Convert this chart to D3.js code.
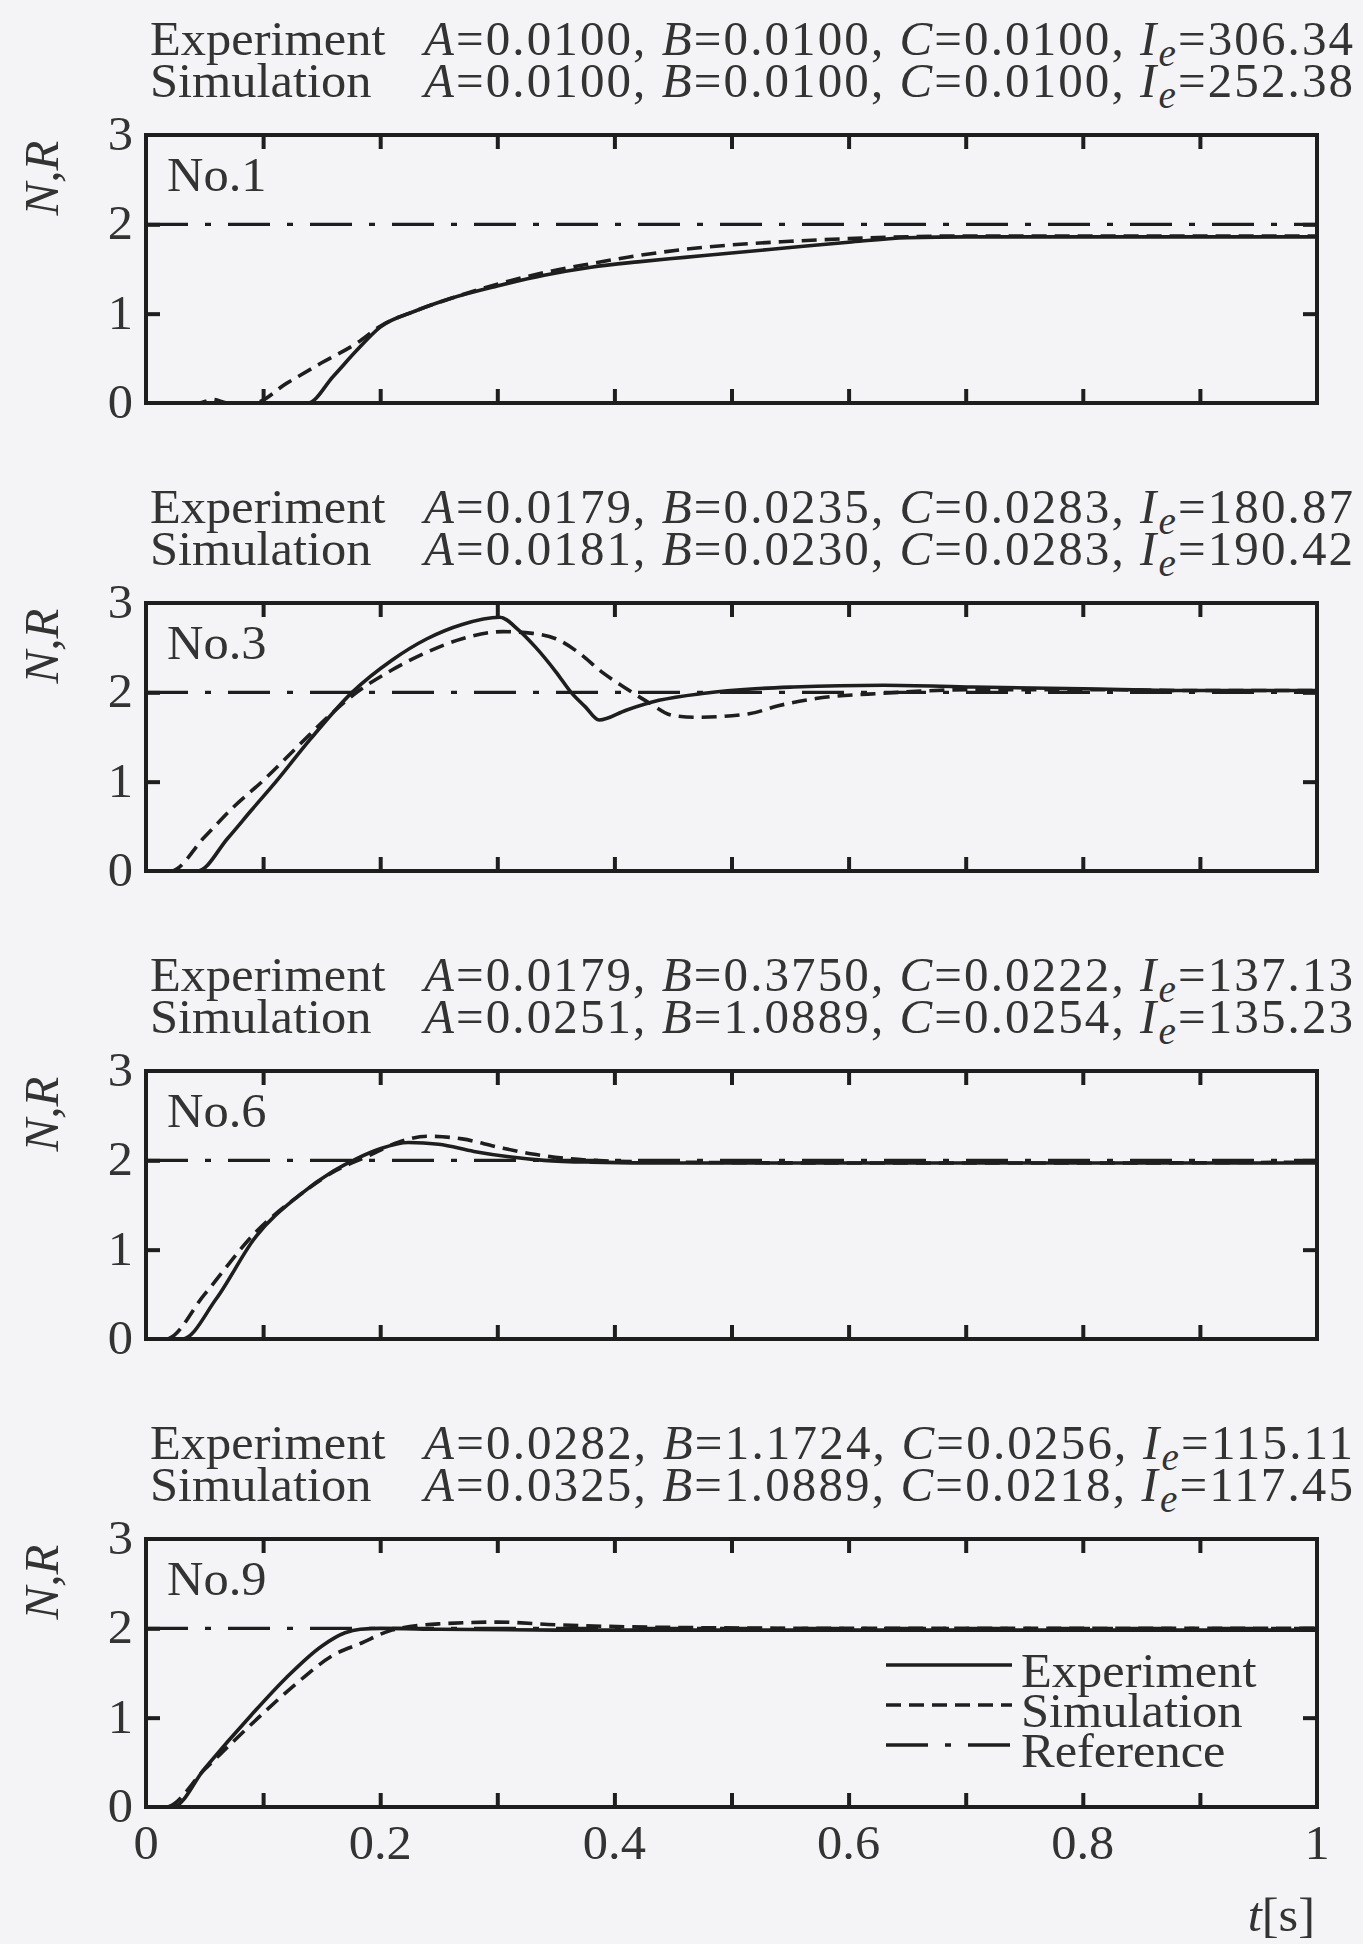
<!DOCTYPE html>
<html>
<head>
<meta charset="utf-8">
<script src="https://cdnjs.cloudflare.com/ajax/libs/d3/7.8.5/d3.min.js"></script>
<style>
  body { margin: 0; background: #f4f4f6; }
  svg text { font-family: "Liberation Serif", "Times New Roman", serif; fill: #333; white-space: pre; }
</style>
</head>
<body>
<div id="chart"></div>
<script>
// ---- data ----
const caseNames = ['No.1', 'No.3', 'No.6', 'No.9'];

// identified parameters, experiment / simulation
const expA  = [0.0100, 0.0179, 0.0179, 0.0282];
const expB  = [0.0100, 0.0235, 0.3750, 1.1724];
const expC  = [0.0100, 0.0283, 0.0222, 0.0256];
const expIe = [306.34, 180.87, 137.13, 115.11];
const simA  = [0.0100, 0.0181, 0.0251, 0.0325];
const simB  = [0.0100, 0.0230, 1.0889, 1.0889];
const simC  = [0.0100, 0.0283, 0.0254, 0.0218];
const simIe = [252.38, 190.42, 135.23, 117.45];

const xTickLabels = [0, 0.2, 0.4, 0.6, 0.8, 1];
const xMinorTicks = [0.1, 0.2, 0.3, 0.4, 0.5, 0.6, 0.7, 0.8, 0.9];
const yTickLabels = [0, 1, 2, 3];
const yInnerTicks = [1, 2];
const referenceValue = 2;

// [t, N] pairs
const exp1 = [[0,0],[0.138,0],[0.16,0.3],[0.18,0.59],[0.2,0.85],[0.23,1.03],[0.26,1.17],[0.3,1.31],[0.34,1.43],[0.38,1.52],[0.42,1.58],[0.46,1.63],[0.5,1.68],[0.55,1.74],[0.6,1.8],[0.65,1.85],[0.7,1.86],[0.8,1.86],[0.9,1.86],[1,1.86]];
const sim1 = [[0,0],[0.045,0],[0.057,0.04],[0.07,0],[0.092,0],[0.12,0.22],[0.15,0.45],[0.18,0.67],[0.2,0.86],[0.23,1.03],[0.26,1.17],[0.3,1.33],[0.34,1.46],[0.38,1.56],[0.42,1.65],[0.46,1.72],[0.5,1.77],[0.55,1.81],[0.6,1.84],[0.65,1.86],[0.7,1.87],[0.8,1.87],[0.9,1.87],[1,1.87]];

const exp3 = [[0,0],[0.044,0],[0.07,0.37],[0.09,0.68],[0.111,1.0],[0.14,1.47],[0.176,2.0],[0.21,2.36],[0.24,2.6],[0.27,2.76],[0.302,2.84],[0.318,2.7],[0.333,2.5],[0.35,2.23],[0.363,2.0],[0.375,1.84],[0.387,1.69],[0.41,1.8],[0.438,1.91],[0.477,1.99],[0.52,2.04],[0.553,2.06],[0.63,2.08],[0.706,2.06],[0.8,2.04],[0.9,2.02],[1,2.02]];
const sim3 = [[0,0],[0.021,0],[0.05,0.38],[0.075,0.72],[0.099,1.0],[0.13,1.4],[0.16,1.78],[0.18,2.0],[0.21,2.25],[0.24,2.45],[0.27,2.6],[0.305,2.68],[0.33,2.66],[0.35,2.6],[0.37,2.44],[0.39,2.22],[0.408,2.06],[0.43,1.88],[0.45,1.74],[0.47,1.72],[0.515,1.76],[0.54,1.85],[0.572,1.93],[0.63,1.99],[0.706,2.03],[0.8,2.03],[0.9,2.02],[1,2.02]];

const exp6 = [[0,0],[0.031,0],[0.06,0.45],[0.094,1.15],[0.13,1.6],[0.16,1.88],[0.18,2.02],[0.2,2.13],[0.224,2.2],[0.25,2.18],[0.28,2.1],[0.31,2.04],[0.34,2.0],[0.38,1.98],[0.45,1.97],[0.6,1.97],[0.8,1.97],[1,1.97]];
const sim6 = [[0,0],[0.017,0],[0.05,0.5],[0.094,1.2],[0.13,1.6],[0.16,1.87],[0.19,2.05],[0.215,2.2],[0.24,2.27],[0.27,2.24],[0.3,2.15],[0.33,2.07],[0.36,2.02],[0.4,1.99],[0.45,1.98],[0.6,1.97],[0.8,1.97],[1,1.98]];

const exp9 = [[0,0],[0.023,0],[0.05,0.43],[0.09,1.03],[0.12,1.45],[0.15,1.8],[0.17,1.95],[0.183,1.99],[0.2,2.0],[0.25,1.99],[0.35,1.98],[0.5,1.98],[0.7,1.98],[1,1.98]];
const sim9 = [[0,0],[0.017,0],[0.05,0.42],[0.096,1.0],[0.13,1.4],[0.16,1.7],[0.183,1.83],[0.21,1.98],[0.25,2.05],[0.3,2.07],[0.35,2.04],[0.45,2.01],[0.6,2.0],[0.8,2.0],[1,2.0]];

const legendNames = ['Experiment', 'Simulation', 'Reference'];

// ---- layout ----
const W = 1363, H = 1944;
const FONT = 49, SX = 1.03;
const plotLeft = 146, plotRight = 1317, plotH = 268;
const panelTops = [135, 603, 1071, 1539];
const INK = '#1e1e1e';
const LW = 3.6;
const DASH = '15,8', DASHDOT = '42,17,6,17';

const panels = [
  {exp: exp1, sim: sim1},
  {exp: exp3, sim: sim3},
  {exp: exp6, sim: sim6},
  {exp: exp9, sim: sim9}
];

const svg = d3.select('#chart').append('svg')
    .attr('width', W)
    .attr('height', H);

svg.append('rect').attr('width', W).attr('height', H).attr('fill', '#f4f4f6');

const x = d3.scaleLinear().domain([0, 1]).range([plotLeft, plotRight]);

// text stretched sideways a touch, like the scan
function label(g, px, py, str, anchor) {
    return g.append('text')
        .attr('transform', `translate(${px},${py}) scale(${SX},1)`)
        .attr('text-anchor', anchor || 'start')
        .attr('font-size', FONT)
        .text(str);
}

function paramLine(g, px, py, a, b, c, ie) {
    const t = g.append('text')
        .attr('x', px).attr('y', py)
        .attr('font-size', FONT)
        .attr('textLength', 929)
        .attr('lengthAdjust', 'spacing');
    t.append('tspan').attr('font-style', 'italic').text('A');
    t.append('tspan').text('=' + a.toFixed(4) + ', ');
    t.append('tspan').attr('font-style', 'italic').text('B');
    t.append('tspan').text('=' + b.toFixed(4) + ', ');
    t.append('tspan').attr('font-style', 'italic').text('C');
    t.append('tspan').text('=' + c.toFixed(4) + ', ');
    t.append('tspan').attr('font-style', 'italic').text('I');
    t.append('tspan').attr('font-style', 'italic').attr('font-size', FONT * 0.8).attr('dy', 11).text('e');
    t.append('tspan').attr('dy', -11).text('=' + ie.toFixed(2));
}

function styleAxis(sel) {
    sel.select('.domain').remove();
    sel.selectAll('.tick line').attr('stroke', INK).attr('stroke-width', 4);
}

panels.forEach(function(p, i) {
    const top = panelTops[i];
    const y = d3.scaleLinear().domain([0, 3]).range([top + plotH, top]);
    const g = svg.append('g');

    const line = d3.line()
        .x(d => x(d[0]))
        .y(d => y(d[1]))
        .curve(d3.curveMonotoneX);

    // titles
    label(g, plotLeft + 4, top - 80, 'Experiment');
    label(g, plotLeft + 4, top - 38, 'Simulation');
    paramLine(g, plotLeft + 278, top - 80, expA[i], expB[i], expC[i], expIe[i]);
    paramLine(g, plotLeft + 278, top - 38, simA[i], simB[i], simC[i], simIe[i]);

    // inward ticks on all four sides
    g.append('g').attr('transform', `translate(0,${y(0)})`)
        .call(d3.axisBottom(x).tickValues(xMinorTicks).tickSize(-14).tickFormat(''))
        .call(styleAxis);
    g.append('g').attr('transform', `translate(0,${y(3)})`)
        .call(d3.axisTop(x).tickValues(xMinorTicks).tickSize(-14).tickFormat(''))
        .call(styleAxis);
    g.append('g').attr('transform', `translate(${x(0)},0)`)
        .call(d3.axisLeft(y).tickValues(yInnerTicks).tickSize(-14).tickFormat(''))
        .call(styleAxis);
    g.append('g').attr('transform', `translate(${x(1)},0)`)
        .call(d3.axisRight(y).tickValues(yInnerTicks).tickSize(-14).tickFormat(''))
        .call(styleAxis);

    // y tick labels
    yTickLabels.forEach(function(v) {
        label(g, plotLeft - 13, y(v) + 15, String(v), 'end');
    });

    // y axis title
    g.append('text')
        .attr('transform', `translate(58,${top + 43}) rotate(-90)`)
        .attr('text-anchor', 'middle')
        .attr('font-size', FONT)
        .attr('font-style', 'italic')
        .text('N,R');

    // case name
    label(g, plotLeft + 21, top + 56, caseNames[i]);

    // reference
    g.append('path')
        .datum([[0, referenceValue], [1, referenceValue]])
        .attr('d', line)
        .attr('fill', 'none')
        .attr('stroke', INK)
        .attr('stroke-width', 3.2)
        .attr('stroke-dasharray', DASHDOT);

    // simulation
    g.append('path')
        .datum(p.sim)
        .attr('d', line)
        .attr('fill', 'none')
        .attr('stroke', INK)
        .attr('stroke-width', LW)
        .attr('stroke-dasharray', DASH);

    // experiment
    g.append('path')
        .datum(p.exp)
        .attr('d', line)
        .attr('fill', 'none')
        .attr('stroke', INK)
        .attr('stroke-width', LW);

    // frame
    g.append('rect')
        .attr('x', x(0)).attr('y', y(3))
        .attr('width', x(1) - x(0)).attr('height', y(0) - y(3))
        .attr('fill', 'none')
        .attr('stroke', INK)
        .attr('stroke-width', 4);

    if (i === panels.length - 1) {
        // x tick labels + axis title only under the last panel
        xTickLabels.forEach(function(v) {
            label(g, x(v), y(0) + 52, String(v), 'middle');
        });
        const tl = g.append('text')
            .attr('transform', `translate(${plotRight - 2},${y(0) + 124}) scale(${SX},1)`)
            .attr('text-anchor', 'end')
            .attr('font-size', FONT);
        tl.append('tspan').attr('font-style', 'italic').text('t');
        tl.append('tspan').text('[s]');

        // legend
        const styles = [null, DASH, DASHDOT];
        legendNames.forEach(function(name, k) {
            const ly = top + 126 + k * 40;
            g.append('line')
                .attr('x1', plotLeft + 740).attr('x2', plotLeft + 866)
                .attr('y1', ly).attr('y2', ly)
                .attr('stroke', INK)
                .attr('stroke-width', LW)
                .attr('stroke-dasharray', styles[k]);
            label(g, plotLeft + 875, ly + 22, name);
        });
    }
});
</script>
</body>
</html>
